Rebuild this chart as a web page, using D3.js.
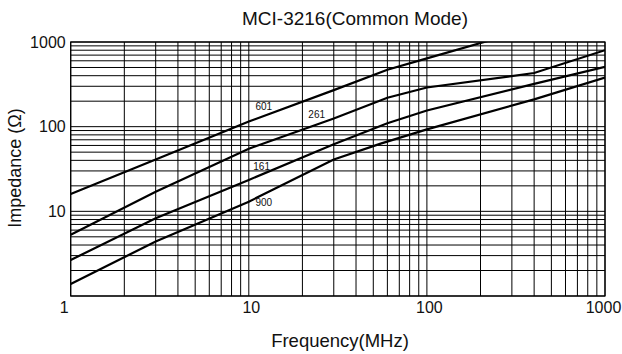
<!DOCTYPE html>
<html>
<head>
<meta charset="utf-8">
<script src="https://cdn.jsdelivr.net/npm/d3@7"></script>
<style>
  body { margin: 0; background: #fff; }
  svg { font-family: "Liberation Sans", Arial, sans-serif; }
</style>
</head>
<body>
<div class="chart"></div>
<script>
// chart size
var svgx = 622;
var svgy = 354;
var margin = {top: 42, right: 17, bottom: 58, left: 70.7};
var w = svgx - margin.left - margin.right;
var h = svgy - margin.top - margin.bottom;

// data (frequency MHz, impedance ohm)
var freq601 = [1, 3, 10, 30, 60, 100, 220];
var z601    = [16, 41, 115, 270, 470, 640, 1030];
var freq261 = [1, 3, 10, 30, 60, 100, 400, 1000];
var z261    = [5.3, 17, 55, 125, 220, 290, 430, 800];
var freq161 = [1, 3, 10, 30, 60, 100, 400, 1000];
var z161    = [2.66, 8.3, 23.5, 62, 110, 155, 320, 510];
var freq900 = [1, 3, 10, 30, 55, 100, 400, 1000];
var z900    = [1.39, 4.4, 13, 41, 63, 93, 210, 380];

var seriesNames = ["601", "261", "161", "900"];
var labelFreq = [10.9, 21.6, 10.6, 10.9];     // where the small curve labels sit
var labelZ    = [157, 127, 30.8, 11.5];

var xTicks = [1, 10, 100, 1000];
var yTicks = [10, 100, 1000];

var svg = d3.select(".chart")
    .append("svg")
    .attr("width", svgx)
    .attr("height", svgy);
var g = svg.append("g")
    .attr("transform", "translate(" + margin.left + "," + margin.top + ")");

var xscale = d3.scaleLog().domain([1, 1000]).range([0, w]);
var yscale = d3.scaleLog().domain([1, 1000]).range([h, 0]);

// minor grid, every 1..9 per decade
var gridVals = [];
[1, 10, 100].forEach(function(d) {
    for (var k = 1; k <= 9; k++) gridVals.push(d * k);
});
gridVals.push(1000);

g.selectAll(".vgrid")
    .data(gridVals)
    .enter()
    .append("line")
    .attr("x1", function(d) { return xscale(d); })
    .attr("x2", function(d) { return xscale(d); })
    .attr("y1", 0)
    .attr("y2", h)
    .attr("stroke", "#000")
    .attr("stroke-width", 1);

g.selectAll(".hgrid")
    .data(gridVals)
    .enter()
    .append("line")
    .attr("x1", 0)
    .attr("x2", w)
    .attr("y1", function(d) { return yscale(d); })
    .attr("y2", function(d) { return yscale(d); })
    .attr("stroke", "#000")
    .attr("stroke-width", 1);

g.append("rect")
    .attr("width", w)
    .attr("height", h)
    .attr("fill", "none")
    .attr("stroke", "#000")
    .attr("stroke-width", 1.2);

// axes, tick labels only
var xaxis = d3.axisBottom(xscale).tickValues(xTicks).tickSize(0).tickPadding(6)
    .tickFormat(d3.format("d"));
var yaxis = d3.axisLeft(yscale).tickValues(yTicks).tickSize(0).tickPadding(5)
    .tickFormat(d3.format("d"));

var xg = g.append("g").attr("transform", "translate(0," + h + ")").call(xaxis);
var yg = g.append("g").call(yaxis);
[xg, yg].forEach(function(a) {
    a.select(".domain").remove();
    a.selectAll("text")
        .attr("font-family", "Liberation Sans, Arial, sans-serif")
        .attr("font-size", "16px")
        .attr("fill", "#111");
});
// the corner "1" sits a bit left of the axis in the original, "1000" touches the edge
xg.selectAll("text").attr("dx", function(d) {
    if (d === 1) return -7;
    if (d === 1000) return -2;
    return 2;
});

// curves
g.append("clipPath").attr("id", "clip")
    .append("rect").attr("width", w).attr("height", h);

var line = d3.line()
    .x(function(d) { return xscale(d[0]); })
    .y(function(d) { return yscale(d[1]); });

var curves = [
    d3.zip(freq601, z601),
    d3.zip(freq261, z261),
    d3.zip(freq161, z161),
    d3.zip(freq900, z900)
];

g.selectAll(".curve")
    .data(curves)
    .enter()
    .append("path")
    .attr("d", line)
    .attr("fill", "none")
    .attr("stroke", "#000")
    .attr("stroke-width", 2.2)
    .attr("clip-path", "url(#clip)");

g.selectAll(".clabel")
    .data(seriesNames)
    .enter()
    .append("text")
    .attr("x", function(d, i) { return xscale(labelFreq[i]); })
    .attr("y", function(d, i) { return yscale(labelZ[i]); })
    .attr("font-size", "10px")
    .attr("fill", "#111")
    .text(function(d) { return d; });

// titles
svg.append("text")
    .attr("x", 355)
    .attr("y", 25)
    .attr("text-anchor", "middle")
    .attr("font-size", "19px")
    .attr("fill", "#111")
    .text("MCI-3216(Common Mode)");

svg.append("text")
    .attr("x", 340)
    .attr("y", 347)
    .attr("text-anchor", "middle")
    .attr("font-size", "18.5px")
    .attr("fill", "#111")
    .text("Frequency(MHz)");

svg.append("text")
    .attr("transform", "translate(21," + 168 + ") rotate(-90)")
    .attr("text-anchor", "middle")
    .attr("font-size", "18px")
    .attr("fill", "#111")
    .text("Impedance (Ω)");
</script>
</body>
</html>
